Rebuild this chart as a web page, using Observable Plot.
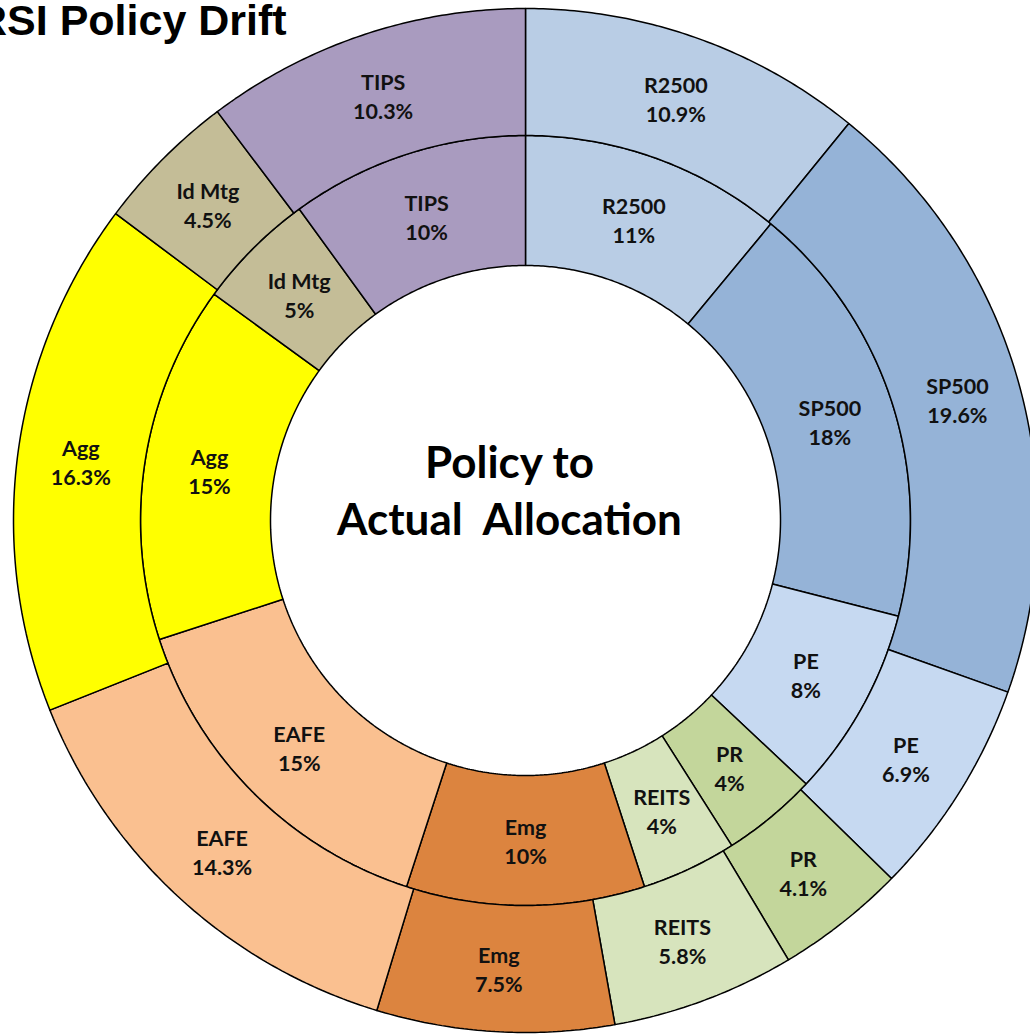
<!DOCTYPE html>
<html><head><meta charset="utf-8">
<script src="https://cdn.jsdelivr.net/npm/d3@7"></script>
<script src="https://cdn.jsdelivr.net/npm/@observablehq/plot@0.6"></script>
<style>
body{margin:0;overflow:hidden;background:#fff;}
#wrap{position:relative;width:1030px;height:1034px;overflow:hidden;}
#title{position:absolute;left:-24px;top:-1px;font:bold 43px "Liberation Sans",Arial,sans-serif;line-height:1;white-space:nowrap;z-index:2;color:#000;}
</style></head><body>
<div id="wrap"><div id="title">RSI Policy Drift</div><div id="chart"></div></div>
<script>
const categories = ["R2500","SP500","PE","PR","REITS","Emg","EAFE","Agg","Id Mtg","TIPS"];
const policy = [11,18,8,4,4,10,15,15,5,10];
const actual = [10.9,19.6,6.9,4.1,5.8,7.5,14.3,16.3,4.5,10.3];
const colors = ["#B9CDE5","#95B3D7","#C6D9F1","#C3D69B","#D7E4BD","#DC843F","#FAC090","#FFFF00","#C4BD97","#A99BBF"];
const centerLabel = ["Policy to","Actual  Allocation"];

const rings = [
  {key:"policy", values: policy, r0: 255/512, r1: 385/512},
  {key:"actual", values: actual, r0: 385/512, r1: 1}
];

const shapes = [], labels = [];
for (const ring of rings) {
  const total = d3.sum(ring.values);
  let cum = 0;
  ring.values.forEach((v, i) => {
    const a0 = cum / total * 2 * Math.PI; cum += v; const a1 = cum / total * 2 * Math.PI;
    const id = ring.key + i;
    const n = Math.max(2, Math.ceil((a1 - a0) / (Math.PI / 360)));
    const pts = [];
    for (let k = 0; k <= n; k++) pts.push([a0 + (a1 - a0) * k / n, ring.r1]);
    for (let k = n; k >= 0; k--) pts.push([a0 + (a1 - a0) * k / n, ring.r0]);
    pts.push([a0, ring.r1]);
    for (const [a, r] of pts) shapes.push({id, name: categories[i], x: r * Math.sin(a), y: r * Math.cos(a)});
    const am = (a0 + a1) / 2, rm = (ring.r0 + ring.r1) / 2;
    labels.push({text: `${categories[i]}\n${v}%`, x: rm * Math.sin(am), y: rm * Math.cos(am)});
  });
}

const chart = Plot.plot({
  width: 1030, height: 1034, margin: 0,
  style: {overflow: "hidden", background: "white"},
  x: {domain: [-525/512, 505/512], range: [0, 1030], axis: null},
  y: {domain: [-514/512, 520/512], range: [1034, 0], axis: null},
  color: {domain: categories, range: colors},
  marks: [
    Plot.line(shapes, {x: "x", y: "y", z: "id", fill: "name", stroke: "black", strokeWidth: 1.5, strokeLinejoin: "miter"}),
    Plot.text(labels, {x: "x", y: "y", text: "text", fontSize: 21.5, fontWeight: "bold", lineHeight: 1.35, fill: "#111", fontFamily: "Lato, sans-serif"}),
    Plot.text([centerLabel.join("\n").replace(/  /g, " \u00A0")], {frameAnchor: "middle", dx: -6, dy: -29, fontSize: 44, fontWeight: "bold", lineHeight: 1.3, fill: "black", fontFamily: "Lato, sans-serif"})
  ]
});
document.getElementById("chart").appendChild(chart);
</script>
</body></html>
